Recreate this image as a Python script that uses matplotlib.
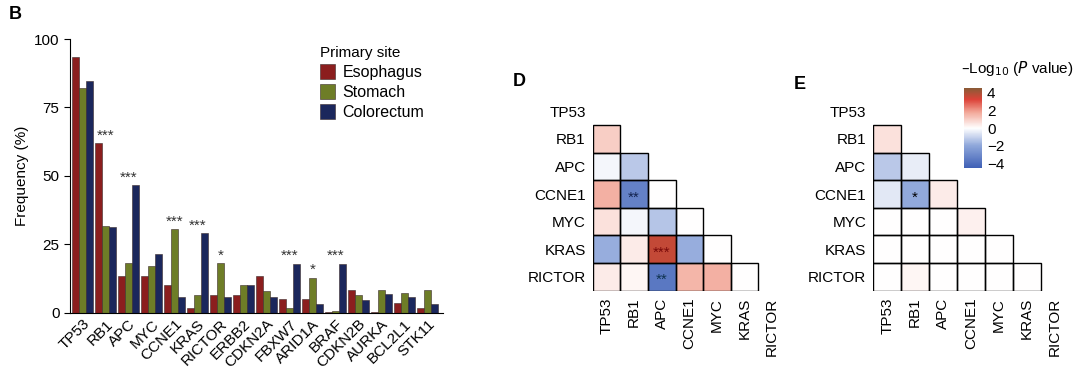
import matplotlib
matplotlib.use('Agg')
import matplotlib.pyplot as plt
import numpy as np
from matplotlib.colors import LinearSegmentedColormap
from matplotlib.patches import Rectangle

plt.rcParams['font.family'] = ['Liberation Sans', 'DejaVu Sans']
plt.rcParams['font.size'] = 11

# panel B: alteration frequency by primary site
genes = ['TP53', 'RB1', 'APC', 'MYC', 'CCNE1', 'KRAS', 'RICTOR', 'ERBB2',
         'CDKN2A', 'FBXW7', 'ARID1A', 'BRAF', 'CDKN2B', 'AURKA', 'BCL2L1', 'STK11']
esophagus = [93.3, 61.9, 13.4, 13.4, 10.1, 1.7, 6.6, 6.6, 13.3, 4.9, 4.9, 0.4, 8.3, 0.4, 3.4, 1.8]
stomach = [82.2, 31.8, 18.1, 17.2, 30.5, 6.5, 18.0, 10.1, 7.9, 1.7, 12.8, 0.7, 6.3, 8.2, 7.3, 8.2]
colorectum = [84.5, 31.2, 46.6, 21.3, 5.6, 29.0, 5.6, 10.1, 5.6, 17.9, 3.3, 17.9, 4.5, 6.7, 5.6, 3.3]
bar_stars = ['', '***', '***', '', '***', '***', '*', '', '', '***', '*', '***', '', '', '', '']
sites = ['Esophagus', 'Stomach', 'Colorectum']
site_colors = ['#8b1e1e', '#6e7d27', '#1b275c']

# panels D and E: signed -log10(P) for co-occurrence / exclusivity
pair_genes = ['TP53', 'RB1', 'APC', 'CCNE1', 'MYC', 'KRAS', 'RICTOR']
d_vals = [[0, 0, 0, 0, 0, 0, 0],
          [1.0, 0, 0, 0, 0, 0, 0],
          [-0.2, -1.2, 0, 0, 0, 0, 0],
          [1.6, -3.3, 0, 0, 0, 0, 0],
          [0.6, -0.2, -1.3, 0, 0, 0, 0],
          [-1.8, 0.4, 3.6, -1.8, 0, 0, 0],
          [0.4, 0.2, -3.6, 1.5, 1.6, 0, 0]]
d_stars = {(3, 1): '**', (5, 2): '***', (6, 2): '**'}
e_vals = [[0, 0, 0, 0, 0, 0, 0],
          [0.6, 0, 0, 0, 0, 0, 0],
          [-1.2, -0.4, 0, 0, 0, 0, 0],
          [-0.5, -1.9, 0.4, 0, 0, 0, 0],
          [0, 0, 0, 0.3, 0, 0, 0],
          [0, 0, 0, 0, 0, 0, 0],
          [0, 0.2, 0, 0, 0, 0, 0]]
e_stars = {(3, 1): '*'}
cbar_ticks = [4, 2, 0, -2, -4]

fig = plt.figure(figsize=(10.8, 3.72), dpi=100)

# ---------------- B ----------------
ax = fig.add_axes([0.0648, 0.1594, 0.3455, 0.7356])
x = np.arange(len(genes))
w = 0.31
for k, (vals, col, lab) in enumerate(zip([esophagus, stomach, colorectum], site_colors, sites)):
    ax.bar(x + (k - 1) * w, vals, w, color=col, edgecolor='#3a2a2a', linewidth=0.4, label=lab)
for i, s in enumerate(bar_stars):
    if s:
        top = max(esophagus[i], stomach[i], colorectum[i])
        ax.text(x[i], top + 0.3, s, ha='center', va='bottom', fontsize=11, color='#333333')
ax.set_xlim(-0.553, 15.69)
ax.set_ylim(0, 100)
ax.set_yticks([0, 25, 50, 75, 100])
ax.set_xticks(x)
ax.set_xticklabels(genes, rotation=45, ha='right', rotation_mode='anchor')
ax.tick_params(axis='x', length=0, pad=3)
ax.tick_params(axis='y', length=4, width=0.8)
ax.spines['top'].set_visible(False)
ax.spines['right'].set_visible(False)
ax.set_ylabel('Frequency (%)', labelpad=4)
leg = ax.legend(title='Primary site', loc='upper left', bbox_to_anchor=(0.649, 1.005),
                frameon=False, handlelength=0.9, handleheight=1.1, handletextpad=0.5,
                labelspacing=0.25, borderpad=0, alignment='left', fontsize=11.5,
                title_fontsize=11)
fig.text(0.008, 0.985, 'B', fontsize=13, fontweight='bold', va='top')

# ---------------- D / E heatmaps ----------------
cmap = LinearSegmentedColormap.from_list('pv', [(0, '#3e5fb5'), (0.28, '#8ea6da'), (0.5, '#ffffff'),
                                                (0.7, '#f2a798'), (0.86, '#dc4238'), (1, '#8a5b36')])
vmin, vmax = -4.5, 4.5


def heat(axh, vals, stars, star_cols):
    vals = np.array(vals, dtype=float)
    n = len(pair_genes)
    mask = np.triu(np.ones((n, n), dtype=bool))
    data = np.ma.masked_array(vals, mask)
    m = axh.pcolormesh(np.arange(n + 1), np.arange(n + 1), data, cmap=cmap, vmin=vmin, vmax=vmax,
                       edgecolors='none')
    # outline only the lower-triangle cells
    for r in range(n):
        for c in range(r):
            axh.add_patch(Rectangle((c, r), 1, 1, fill=False, edgecolor='black', linewidth=1.0))
    for (r, c), s in stars.items():
        axh.text(c + 0.5, r + 0.62, s, ha='center', va='center', fontsize=11,
                 color=star_cols.get((r, c), 'black'))
    axh.set_xlim(0, n)
    axh.set_ylim(n, 0)
    axh.set_xticks(np.arange(n) + 0.5)
    axh.set_yticks(np.arange(n) + 0.5)
    axh.set_xticklabels(pair_genes, rotation=90, va='top')
    axh.set_yticklabels(pair_genes)
    axh.tick_params(length=0, pad=5)
    for sp in axh.spines.values():
        sp.set_visible(False)
    return m


axd = fig.add_axes([0.5488, 0.2185, 0.179, 0.5196])
heat(axd, d_vals, d_stars, {(3, 1): '#13234f', (5, 2): '#7a0a0a', (6, 2): '#0f3350'})
fig.text(0.475, 0.78, 'D', fontsize=13, fontweight='bold', va='center')

axe = fig.add_axes([0.8086, 0.2185, 0.1808, 0.5196])
mesh = heat(axe, e_vals, e_stars, {})
fig.text(0.735, 0.774, 'E', fontsize=13, fontweight='bold', va='center')

cax = fig.add_axes([0.8926, 0.548, 0.0167, 0.215])
cb = fig.colorbar(mesh, cax=cax, ticks=cbar_ticks)
cb.outline.set_visible(False)
cb.ax.set_yticklabels(['4', '2', '0', '\u22122', '\u22124'])
cb.ax.tick_params(length=2.5, width=0.6, color='white', pad=1, labelsize=11)
fig.text(0.89, 0.817, '\u2013Log$_{10}$ ($P$ value)', fontsize=11, va='center', ha='left')

fig.savefig('out.png', dpi=100)
